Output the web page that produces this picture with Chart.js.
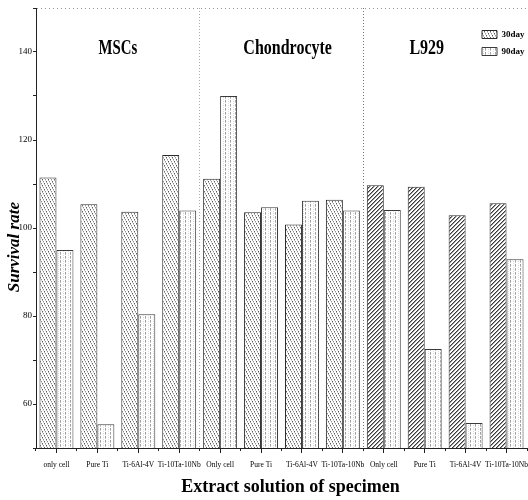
<!DOCTYPE html>
<html><head><meta charset="utf-8">
<script src="https://cdn.jsdelivr.net/npm/chart.js@4.4.0/dist/chart.umd.min.js"></script>
<style>html,body{margin:0;padding:0;background:#fff}#wrap{width:528px;height:500px}</style>
</head><body><div id="wrap"><canvas id="c" width="528" height="500"></canvas></div>
<script>
// ---- data ----
const categories = ['only cell','Pure Ti','Ti-6Al-4V','Ti-10Ta-10Nb',
                    'Only cell','Pure Ti','Ti-6Al-4V','Ti-10Ta-10Nb',
                    'Only cell','Pure Ti','Ti-6Al-4V','Ti-10Ta-10Nb'];
const day30 = [111.5, 105.4, 103.7, 116.6, 111.2, 103.6, 100.8, 106.4, 109.7, 109.4, 102.9, 105.6];
const day90 = [95.0, 55.4, 80.4, 104.0, 130.0, 104.7, 106.2, 104.0, 104.1, 72.5, 55.7, 92.9];
const seriesNames = ['30day', '90day'];
const groupNames = ['MSCs', 'Chondrocyte', 'L929'];
const yTickLabels = [60, 80, 100, 120, 140];

// ---- patterns ----
const canvas = document.getElementById('c');
const mainCtx = canvas.getContext('2d');
function makePattern(w, h, draw) {
  const t = document.createElement('canvas');
  t.width = w; t.height = h;
  const g = t.getContext('2d');
  g.fillStyle = '#fff'; g.fillRect(0, 0, w, h);
  const px = (x, y, c) => { g.fillStyle = c; g.fillRect(x, y, 1, 1); };
  draw(px);
  return mainCtx.createPattern(t, 'repeat');
}
const patStipple = makePattern(6, 6, px => {
  for (let i = 0; i < 6; i++) {
    if (i % 2 === 0) { px(i, 5 - i, '#5a5a5a'); px((i + 3) % 6, 5 - i, '#909090'); }
    else { px((i + 1) % 6, 5 - i, '#b0b0b0'); px((i + 4) % 6, 5 - i, '#d0d0d0'); }
  }
});
const patHatch = makePattern(4, 4, px => {
  for (let i = 0; i < 4; i++) { px(i, 3 - i, '#3a3a3a'); px((i + 1) % 4, 3 - i, '#9a9a9a'); }
});
const patVert = makePattern(5, 4, px => {
  px(0, 0, '#a0a0a0'); px(0, 1, '#a0a0a0'); px(0, 2, '#bdbdbd');
  px(3, 1, '#d5d5d5'); px(3, 3, '#e0e0e0');
});

const SERIF = '"Liberation Serif", "DejaVu Serif", serif';
const NBSP = '\u00a0';

// ---- plugins ----
const groupLabels = {
  id: 'groupLabels',
  afterDatasetsDraw(chart) {
    const xs = chart.scales.x, ys = chart.scales.y, g = chart.ctx;
    const anchors = [1.5, 5.65, 9.05];   // category-index positions
    g.save();
    g.fillStyle = '#000';
    g.font = 'bold 20px ' + SERIF;
    g.textAlign = 'center';
    g.textBaseline = 'alphabetic';
    groupNames.forEach((n, i) => {
      g.save();
      g.translate(xs.getPixelForValue(anchors[i]), ys.getPixelForValue(139.6));
      g.scale(i === 0 ? 0.74 : 0.8, 1);
      g.fillText(n, 0, 0);
      g.restore();
    });
    g.restore();
  }
};
const legendPlace = {
  id: 'legendPlace',
  afterLayout(chart) {
    const lg = chart.legend;
    if (!lg) return;
    const horiz = typeof lg.isHorizontal === 'function' ? lg.isHorizontal() : false;
    if (horiz) lg.update(60, 60, {left: 0, top: 0, right: 0, bottom: 0});
    const w = lg.width, h = lg.height;
    const left = 474, top = 22;
    lg.left = left; lg.right = left + w; lg.top = top; lg.bottom = top + h;
    lg.width = w; lg.height = h;
  }
};
const noPad = (s) => { s.paddingLeft = 0; s.paddingRight = 0; };

new Chart(canvas, {
  type: 'bar',
  data: {
    labels: categories,
    datasets: [
      { label: seriesNames[0], data: day30, xAxisID: 'x', yAxisID: 'y',
        backgroundColor: (c) => (c.dataIndex !== undefined && c.dataIndex < 8) ? patStipple : patHatch,
        borderColor: '#2a2a2a', borderWidth: 1 },
      { label: seriesNames[1], data: day90, xAxisID: 'x', yAxisID: 'y',
        backgroundColor: patVert, borderColor: '#3a3a3a', borderWidth: 1 }
    ]
  },
  options: {
    responsive: false, animation: false, devicePixelRatio: 1,
    layout: { padding: { top: 8, right: 1, left: 0, bottom: 0 } },
    datasets: { bar: { categoryPercentage: 0.83, barPercentage: 1.0 } },
    plugins: {
      legend: {
        position: 'chartArea', align: 'start',
        labels: { boxWidth: 15, boxHeight: 8, padding: 8, color: '#000',
                  font: { family: SERIF, size: 9, weight: 'bold' } }
      },
      tooltip: { enabled: false }
    },
    scales: {
      x: {
        type: 'category', offset: true, weight: 0,
        grid: { offset: false, drawOnChartArea: false, tickLength: 5, color: '#222' },
        border: { color: '#222', width: 1 },
        ticks: { autoSkip: false, maxRotation: 0, minRotation: 0, padding: 8, color: '#000',
                 font: { family: SERIF, size: 7.5 } },
        title: { display: true, text: NBSP.repeat(4) + 'Extract solution of specimen', color: '#000',
                 font: { family: SERIF, size: 18, weight: 'bold' }, padding: { top: 0, bottom: 2 } },
        afterFit: (s) => { s.height = 52; noPad(s); }
      },
      x2: {
        type: 'category', axis: 'x', position: 'bottom', offset: true, weight: -1,
        labels: categories,
        ticks: { display: false },
        grid: { offset: true, drawOnChartArea: true, tickLength: 3, tickColor: '#222', tickBorderDash: [],
                color: (c) => (c.index === 8) ? '#777' :
                              (c.index === 4 || c.index === 12) ? '#aaa' : 'transparent' },
        border: { display: false, dash: [1, 2] },
        afterFit: (s) => { s.height = 0; noPad(s); }
      },
      y: {
        min: 50, max: 150,
        ticks: { stepSize: 10, autoSkip: false, padding: 1, color: '#000',
                 font: { family: SERIF, size: 9 },
                 callback: (v) => yTickLabels.includes(v) ? String(v) : '' },
        grid: { drawOnChartArea: true, tickLength: 3, tickColor: '#222', tickBorderDash: [],
                color: (c) => (c.tick && c.tick.value === 150) ? '#9a9a9a' : 'transparent' },
        border: { color: '#222', width: 1, dash: [1, 3] },
        title: { display: true, text: 'Survival rate' + NBSP.repeat(9), color: '#000',
                 font: { family: SERIF, size: 17, weight: 'bold', style: 'italic' }, padding: { top: 4, bottom: 0 } },
        afterFit: (s) => { s.width = 36; }
      }
    }
  },
  plugins: [groupLabels, legendPlace]
});
</script>
</body></html>
